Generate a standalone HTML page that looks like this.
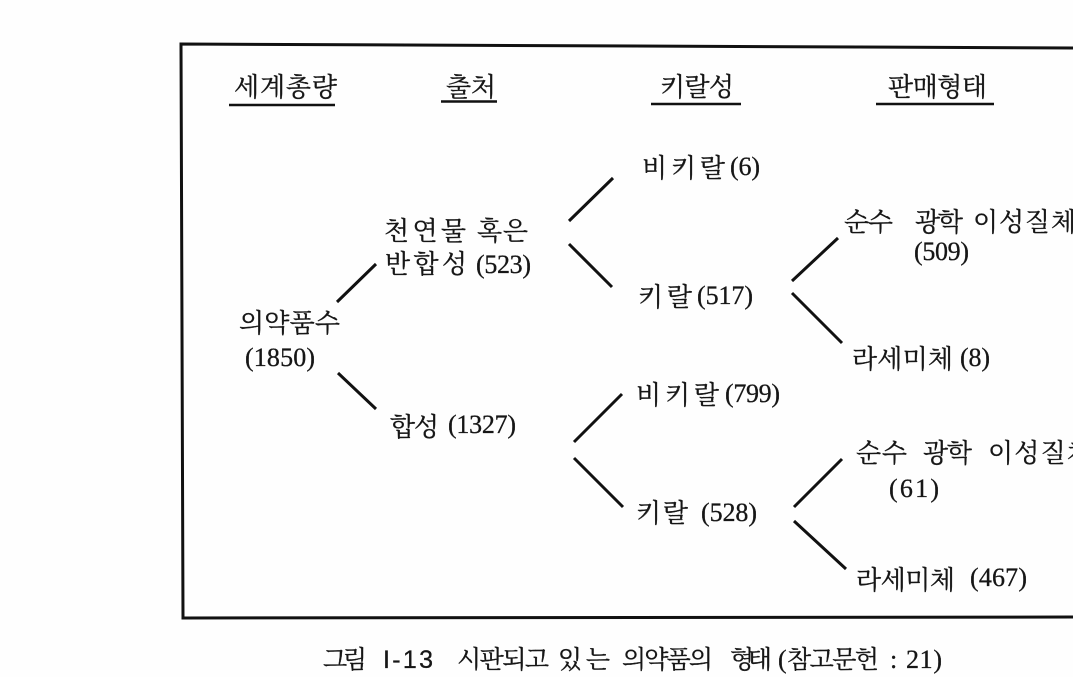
<!DOCTYPE html>
<html><head><meta charset="utf-8"><style>
html,body{margin:0;padding:0;background:#fefefe;width:1073px;height:677px;overflow:hidden}
svg{display:block}
text{fill:#161616;stroke:#161616;stroke-width:.3}
.k{font-family:"Liberation Serif","Noto Serif CJK KR","Noto Serif CJK SC",serif;font-size:26px}
.n{font-family:"Liberation Serif",serif;font-size:26px}
.c{font-family:"Liberation Serif","Noto Serif CJK KR","Noto Serif CJK SC",serif;font-size:25px}
.s{font-family:"Liberation Sans",sans-serif;font-size:25px}
.l{stroke:#111;stroke-width:3;fill:none}
.u{stroke:#111;stroke-width:2.5;fill:none}
</style></head><body>
<svg width="1073" height="677" viewBox="0 0 1073 677" xmlns="http://www.w3.org/2000/svg">
<rect width="1073" height="677" fill="#fefefe"/>
<path class="l" d="M1073 48 L181 44 L183 618 L1073 617"/>
<text class="k" x="234" y="96" textLength="103">세계총량</text>
<text class="k" x="446" y="96" textLength="50">출처</text>
<text class="k" x="660" y="96" textLength="74">키랄성</text>
<text class="k" x="888" y="96" textLength="99">판매형태</text>
<path class="u" d="M229 105H335M441 101.500H497M651 104H741M876 104H994"/>
<text class="k" x="642" y="177" textLength="83">비키랄</text><text class="n" x="730" y="175" textLength="30">(6)</text>
<text class="k" x="384" y="240" textLength="82">천연물</text><text class="k" x="477" y="240" textLength="51">혹은</text>
<text class="k" x="385" y="273" textLength="82">반합성</text><text class="n" x="476" y="273" textLength="55">(523)</text>
<text class="k" x="239" y="332" textLength="101">의약품수</text>
<text class="n" x="245" y="366" textLength="70">(1850)</text>
<text class="k" x="390" y="436" textLength="49">합성</text><text class="n" x="448" y="433" textLength="68">(1327)</text>
<text class="k" x="638" y="306" textLength="54">키랄</text><text class="n" x="697" y="304" textLength="56">(517)</text>
<text class="k" x="844" y="231" textLength="49">순수</text><text class="k" x="915" y="231" textLength="48">광학</text><text class="k" x="973" y="231" textLength="103">이성질체</text>
<text class="n" x="914" y="260" textLength="55">(509)</text>
<text class="k" x="852" y="368" textLength="101">라세미체</text><text class="n" x="960" y="366" textLength="30">(8)</text>
<text class="k" x="636" y="404" textLength="83">비키랄</text><text class="n" x="725" y="402" textLength="55">(799)</text>
<text class="k" x="856" y="462" textLength="51">순수</text><text class="k" x="923" y="462" textLength="49">광학</text><text class="k" x="988" y="462" textLength="104">이성질체</text>
<text class="n" x="889" y="497" textLength="50">(61)</text>
<text class="k" x="636" y="522" textLength="52">키랄</text><text class="n" x="701" y="521" textLength="56">(528)</text>
<text class="k" x="856" y="589" textLength="99">라세미체</text><text class="n" x="970" y="586" textLength="57">(467)</text>
<text class="c" x="323" y="668" textLength="44">그림</text><text class="s" x="383" y="668" textLength="50">I-13</text>
<text class="c" x="457" y="668" textLength="92">시판되고</text><text class="c" x="558" y="668" textLength="52">있는</text>
<text class="c" x="622" y="668" textLength="91">의약품의</text><text class="c" x="730" y="668" textLength="42">형태</text>
<text class="n" x="778" y="668">(</text><text class="c" x="787" y="668" textLength="92">참고문헌</text><text class="n" x="890" y="668">:</text><text class="n" x="906" y="668" textLength="36">21)</text>
<path class="l" d="M337 302L376 264M338 373L376 409M569 221L613 178M569 244L612 287M792 281L838 238M792 293L842 343M574 442L622 394M574 458L623 507M794 507L842 459M794 521L846 569"/>
</svg>
</body></html>
